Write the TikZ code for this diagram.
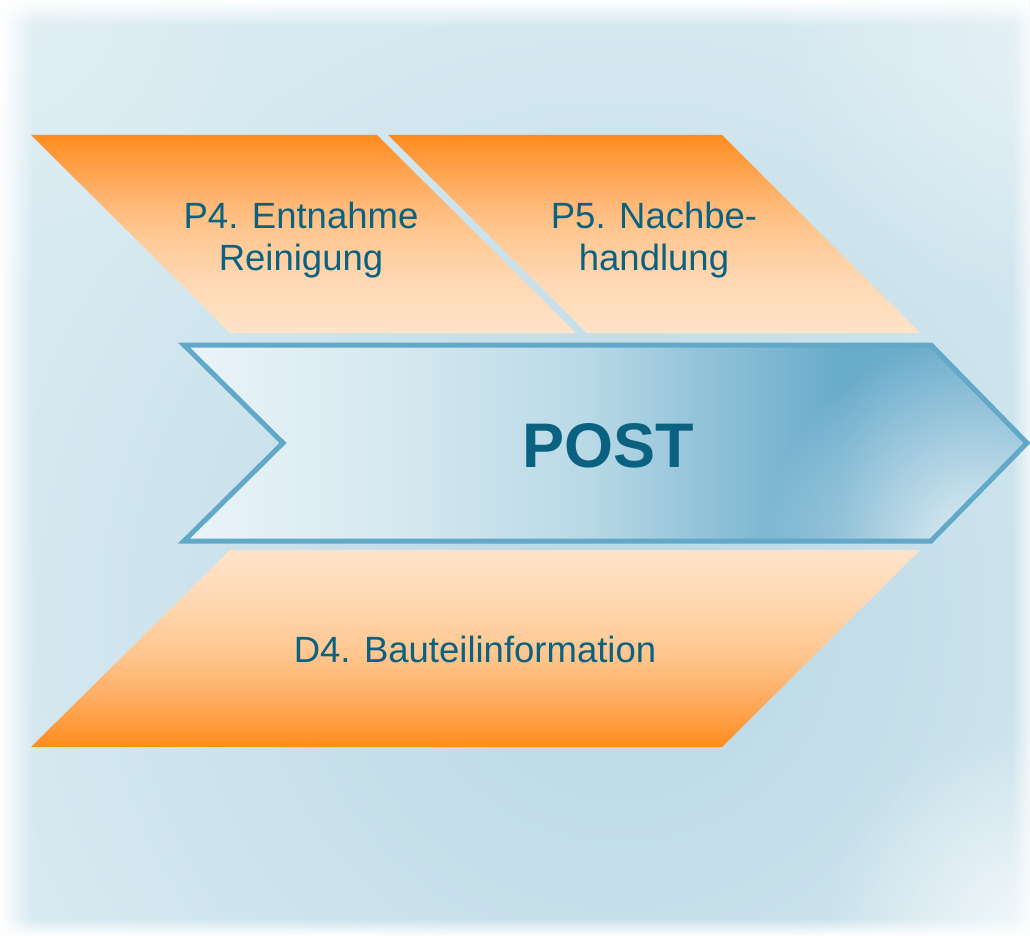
\documentclass[tikz,border=0pt]{standalone}
\usepackage{fontspec}
\setmainfont{Liberation Sans}
\usetikzlibrary{fadings}
\definecolor{txtblue}{RGB}{10,98,128}
\definecolor{bgbase}{RGB}{214,233,241}
\definecolor{bgdark}{RGB}{184,216,229}
\definecolor{chevline}{RGB}{98,168,200}
\definecolor{cA}{RGB}{234,244,249}
\definecolor{cB}{RGB}{213,232,240}
\definecolor{cC}{RGB}{184,217,230}
\definecolor{cD}{RGB}{145,194,216}
\definecolor{cE}{RGB}{104,171,203}
\definecolor{cF}{RGB}{110,174,205}
\definecolor{oA}{RGB}{255,227,201}
\definecolor{oB}{RGB}{255,216,179}
\definecolor{oC}{RGB}{255,199,144}
\definecolor{oD}{RGB}{255,176,104}
\definecolor{oE}{RGB}{255,140,30}
\pgfdeclarehorizontalshading{chevsh}{100bp}{color(0bp)=(cA); color(25bp)=(cA); color(38bp)=(cB); color(49bp)=(cC); color(56bp)=(cD); color(64bp)=(cE); color(75bp)=(cF); color(100bp)=(cF)}
\pgfdeclareverticalshading{orgdown}{100bp}{color(0bp)=(oA); color(25bp)=(oA); color(38bp)=(oB); color(51bp)=(oC); color(61bp)=(oD); color(75bp)=(oE); color(100bp)=(oE)}
\pgfdeclareverticalshading{orgup}{100bp}{color(0bp)=(oE); color(25bp)=(oE); color(39bp)=(oD); color(49bp)=(oC); color(62bp)=(oB); color(75bp)=(oA); color(100bp)=(oA)}
\tikzfading[name=glowfade, inner color=transparent!0, outer color=transparent!100]
\tikzfading[name=fadeleft, left color=transparent!0, right color=transparent!100]
\tikzfading[name=faderight, left color=transparent!100, right color=transparent!0]
\tikzfading[name=fadetop, top color=transparent!0, bottom color=transparent!100]
\tikzfading[name=fadebottom, top color=transparent!100, bottom color=transparent!0]
\tikzset{
  lbl/.style={text=txtblue, inner sep=0pt, font=\fontsize{36.5}{42.5}\selectfont, align=center},
  bigl/.style={text=txtblue, inner sep=0pt, font=\fontsize{63}{70}\selectfont\bfseries},
  topband/.style={shading=orgdown},
  botband/.style={shading=orgup},
}
\begin{document}
\begin{tikzpicture}[x=1pt,y=-1pt]
\useasboundingbox (0,0) rectangle (1030,936);
% background
\fill[bgbase] (0,0) rectangle (1030,936);
\fill[bgdark, path fading=glowfade] (620,620) circle (620);
\fill[white, opacity=0.75, path fading=glowfade] (1030,936) circle (210);
\fill[white, opacity=0.35, path fading=glowfade] (1030,40) circle (260);
\fill[white, opacity=0.3, path fading=glowfade] (0,0) circle (300);
\fill[white, path fading=fadeleft] (0,0) rectangle (34,936);
\fill[white, path fading=fadetop] (0,0) rectangle (1030,26);
\fill[white, path fading=fadebottom] (0,918) rectangle (1030,936);
\fill[white, opacity=0.7, path fading=faderight] (1012,0) rectangle (1030,936);
% top bands
\shade[topband] (31,135) -- (377,135) -- (576,333) -- (230,333) -- cycle;
\shade[topband] (388,135) -- (722,135) -- (920,333) -- (587,333) -- cycle;
% bottom band
\shade[botband] (230,550) -- (920,550) -- (722,747) -- (31,747) -- cycle;
% chevron
\begin{scope}
\clip (184,345) -- (931,345) -- (1027,443) -- (931,541) -- (184,541) -- (283,443) -- cycle;
\shade[shading=chevsh] (184,345) rectangle (1027,541);
\fill[white, opacity=0.8, path fading=glowfade] (975,545) circle (210);
\end{scope}
\draw[chevline, line width=5pt, line join=miter] (184,345) -- (931,345) -- (1027,443) -- (931,541) -- (184,541) -- (283,443) -- cycle;
% labels
\node[lbl] (p4) at (301,240) {P4. Entnahme\\Reinigung};
\node[lbl] (p5) at (654,240) {P5. Nachbe-\\handlung};
\node[lbl, anchor=base] (d4) at (475,662) {D4. Bauteilinformation};
\node[bigl, anchor=base] (post) at (608,467) {POST};
\end{tikzpicture}
\end{document}
